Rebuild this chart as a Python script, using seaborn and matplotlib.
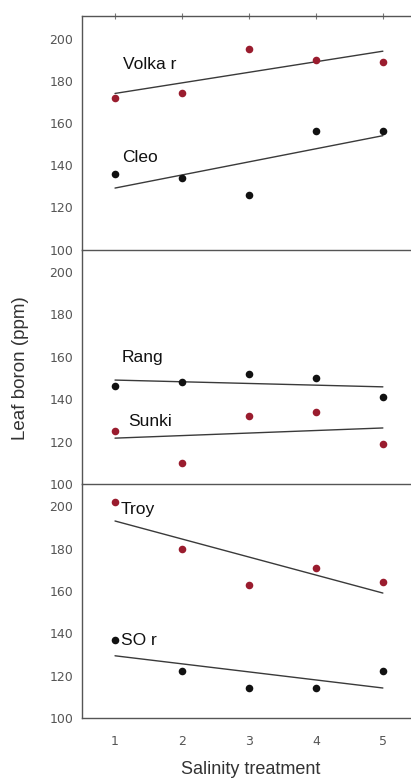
import numpy as np
import pandas as pd
import matplotlib
matplotlib.use('Agg')
import matplotlib.pyplot as plt
import seaborn as sns

# salinity treatments and leaf boron (ppm) per cultivar
treatment = [1, 2, 3, 4, 5]
volka_r = [172, 174, 195, 190, 189]
cleo = [136, 134, 126, 156, 156]
rang = [146, 148, 152, 150, 141]
sunki = [125, 110, 132, 134, 119]
troy = [202, 180, 163, 171, 164]
so_r = [137, 122, 114, 114, 122]

RED = '#9a1c2e'
BLACK = '#111111'

panels = [
    [('Volka r', volka_r, RED, (1.12, 187.5)), ('Cleo', cleo, BLACK, (1.10, 143.5))],
    [('Rang', rang, BLACK, (1.10, 159.5)), ('Sunki', sunki, RED, (1.19, 129.5))],
    [('Troy', troy, RED, (1.08, 198.5)), ('SO r', so_r, BLACK, (1.09, 136.5))],
]

sns.set_style('white')
plt.rcParams['font.family'] = ['Liberation Sans', 'DejaVu Sans']

fig = plt.figure(figsize=(4.11, 7.78), dpi=100)
bounds = [(0.679, 0.979), (0.378, 0.679), (0.077, 0.378)]
axes = []
for bottom, top in bounds:
    a = fig.add_axes([0.2, bottom, 0.8, top - bottom])
    a.patch.set_facecolor('none')
    axes.append(a)

for i, (ax, series) in enumerate(zip(axes, panels)):
    for name, vals, color, (tx, ty) in series:
        df = pd.DataFrame({'treatment': treatment, 'boron': vals})
        sns.regplot(data=df, x='treatment', y='boron', ax=ax, ci=None,
                    scatter_kws=dict(color=color, s=30, alpha=1, linewidths=0, zorder=3),
                    line_kws=dict(color='#3a3a3a', lw=1.0, zorder=2))
        ax.text(tx, ty, name, fontsize=12.5, color='#111111', ha='left', va='center')
    ax.set_xlim(0.51, 5.42)
    ax.set_ylim(100, 210.5)
    ax.set_yticks([100, 120, 140, 160, 180, 200])
    ax.set_xticks(treatment)
    ax.set_xlabel('')
    ax.set_ylabel('')
    ax.spines['right'].set_visible(False)
    ax.spines['top'].set_visible(i == 0)
    for s in ['left', 'bottom', 'top']:
        ax.spines[s].set_color('#555555')
        ax.spines[s].set_linewidth(1.0)
    ax.tick_params(axis='y', direction='inout', length=3, width=0.6, color='#999999',
                   pad=5, labelsize=9, labelcolor='#555555')
    ax.tick_params(axis='x', direction='inout', length=4, width=0.8, color='#777777',
                   labelsize=9, labelcolor='#555555', pad=10, top=(i == 0))
    for lab in ax.get_xticklabels() + ax.get_yticklabels():
        lab.set_family('DejaVu Sans')
    if i < 2:
        ax.tick_params(axis='x', labelbottom=False)

fig.text(0.051, 0.527, 'Leaf boron (ppm)', rotation=90, ha='center', va='center',
         fontsize=13.5, color='#333333')
fig.text(0.609, 0.011, 'Salinity treatment', ha='center', va='center',
         fontsize=13, color='#333333')

fig.savefig('out.png', dpi=100)
